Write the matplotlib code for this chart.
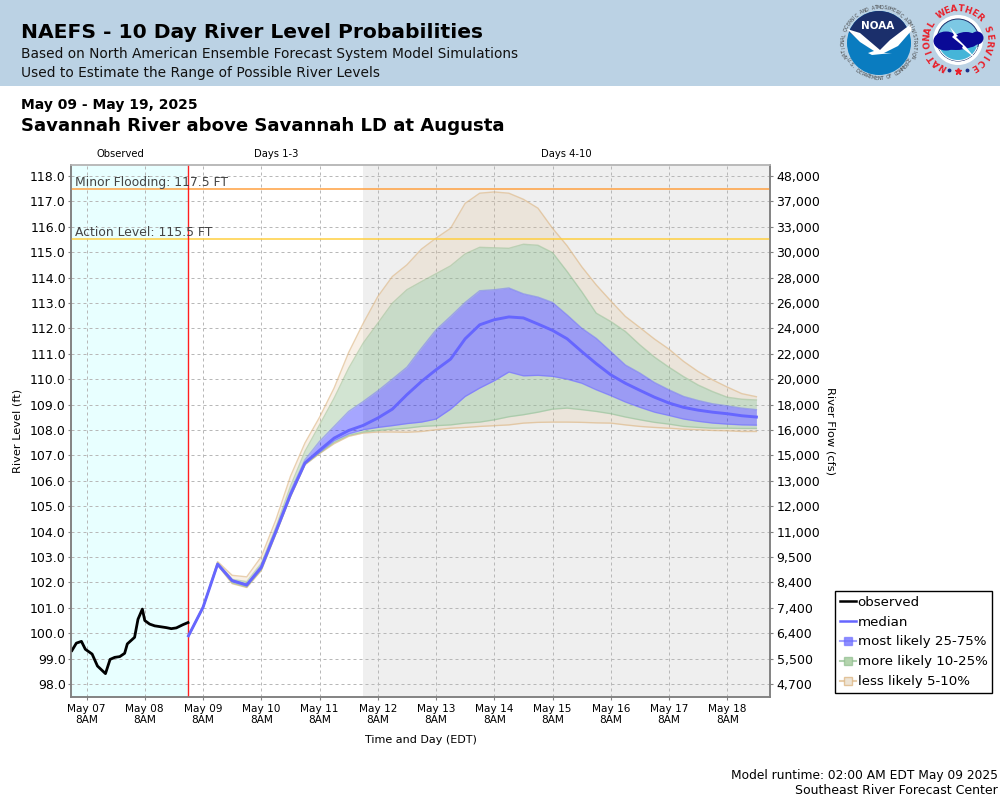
import numpy as np
import matplotlib
matplotlib.use('Agg')
import matplotlib.pyplot as plt
from matplotlib.lines import Line2D
from matplotlib.patches import Circle, Polygon, Rectangle, Ellipse, Wedge

# hours since May 07 8AM
obs_hours = [-6, -4.2, -2.1, -0.5, 2.3, 4.5, 7.8, 9.7, 11.6, 13.7, 15.7, 16.8, 19.8, 21.2,
             23, 24, 26, 28.1, 30.2, 32.9, 34.9, 37, 39.8, 41.8]
obs_level = [99.32, 99.61, 99.68, 99.37, 99.18, 98.71, 98.41, 98.97, 99.05, 99.08, 99.21, 99.58,
             99.84, 100.55, 100.95, 100.5, 100.36, 100.29, 100.26, 100.22, 100.18, 100.21, 100.34, 100.42]

fc_hours = [42, 48, 54, 60, 66, 72, 78, 84, 90, 96, 102, 108, 114, 120, 126, 132, 138, 144, 150, 156,
            162, 168, 174, 180, 186, 192, 198, 204, 210, 216, 222, 228, 234, 240, 246, 252, 258, 264, 270, 276]

p95 = [99.92, 101.05, 102.82, 102.28, 102.22, 103.01, 104.46, 106.17, 107.49, 108.5, 109.65, 111.05, 112.2, 113.25,
       114.04, 114.5, 115.12, 115.55, 115.94, 116.92, 117.32, 117.37, 117.32, 117.08, 116.73, 115.94, 115.25,
       114.43, 113.71, 113.08, 112.47, 112.03, 111.58, 111.18, 110.7, 110.3, 109.97, 109.69, 109.43, 109.31]
p90 = [99.91, 101.04, 102.78, 102.12, 102.03, 102.75, 104.17, 105.78, 107.16, 108.2, 109.25, 110.43, 111.42, 112.2,
       112.99, 113.52, 113.84, 114.15, 114.46, 114.93, 115.19, 115.17, 115.15, 115.31, 115.27, 114.98, 114.24,
       113.45, 112.6, 112.27, 111.88, 111.35, 110.87, 110.47, 110.1, 109.77, 109.51, 109.29, 109.21, 109.18]
p75 = [99.91, 101.03, 102.75, 102.09, 101.93, 102.68, 104.09, 105.58, 106.83, 107.55, 108.14, 108.73, 109.12, 109.54,
       110.0, 110.47, 111.22, 111.94, 112.47, 113.02, 113.48, 113.52, 113.59, 113.36, 113.23, 113.02, 112.53,
       112.01, 111.61, 111.09, 110.56, 110.24, 109.87, 109.58, 109.32, 109.16, 109.03, 108.95, 108.86, 108.8]
median = [99.9, 101.02, 102.72, 102.07, 101.9, 102.59, 104.0, 105.45, 106.7, 107.2, 107.68, 107.98, 108.18, 108.47,
          108.82, 109.39, 109.91, 110.37, 110.79, 111.59, 112.14, 112.34, 112.45, 112.41, 112.17, 111.92, 111.59,
          111.09, 110.61, 110.17, 109.84, 109.56, 109.29, 109.06, 108.89, 108.78, 108.7, 108.64, 108.56, 108.51]
p25 = [99.9, 101.01, 102.7, 102.03, 101.86, 102.55, 103.97, 105.42, 106.68, 107.12, 107.58, 107.85, 108.01, 108.1,
       108.17, 108.25, 108.31, 108.43, 108.82, 109.32, 109.65, 109.94, 110.28, 110.13, 110.15, 110.11, 110.0,
       109.84, 109.58, 109.35, 109.1, 108.89, 108.7, 108.57, 108.43, 108.34, 108.27, 108.23, 108.2, 108.19]
p10 = [99.89, 101.0, 102.69, 101.98, 101.82, 102.5, 103.92, 105.38, 106.65, 107.09, 107.51, 107.79, 107.92, 107.98,
       108.03, 108.07, 108.14, 108.17, 108.2, 108.27, 108.31, 108.4, 108.52, 108.6, 108.7, 108.82, 108.86,
       108.8, 108.73, 108.64, 108.51, 108.4, 108.3, 108.23, 108.14, 108.1, 108.07, 108.07, 108.06, 108.06]
p5 = [99.88, 100.99, 102.68, 101.95, 101.8, 102.47, 103.9, 105.36, 106.63, 107.07, 107.46, 107.75, 107.88, 107.92,
      107.92, 107.91, 107.94, 108.01, 108.07, 108.1, 108.14, 108.17, 108.2, 108.27, 108.3, 108.31, 108.31,
      108.3, 108.28, 108.27, 108.2, 108.14, 108.1, 108.07, 108.03, 108.01, 107.98, 107.97, 107.94, 107.94]

stage_ticks = [98, 99, 100, 101, 102, 103, 104, 105, 106, 107, 108, 109, 110, 111, 112, 113, 114, 115, 116, 117, 118]
flow_labels = ['4,700', '5,500', '6,400', '7,400', '8,400', '9,500', '11,000', '12,000', '13,000', '15,000',
               '16,000', '18,000', '20,000', '22,000', '24,000', '26,000', '28,000', '30,000', '33,000', '37,000', '48,000']
day_ticks = [0, 24, 48, 72, 96, 120, 144, 168, 192, 216, 240, 264]
day_labels = ['May 07', 'May 08', 'May 09', 'May 10', 'May 11', 'May 12', 'May 13', 'May 14', 'May 15',
              'May 16', 'May 17', 'May 18']

BLUE = '#6666ff'
FILL_BLUE = (0, 0, 1, 0.35)
FILL_GREEN = (0.56, 0.74, 0.56, 0.4)
FILL_TAN = (0.87, 0.72, 0.53, 0.2)
EDGE_BLUE = (0.4, 0.4, 1, 0.45)
EDGE_GREEN = (0.56, 0.74, 0.56, 0.5)
EDGE_TAN = (0.87, 0.72, 0.53, 0.65)

plt.rcParams['font.family'] = 'DejaVu Sans'
fig = plt.figure(figsize=(10, 8), dpi=100)
W, H = 1000, 800
ax = fig.add_axes([71 / W, 1 - 697 / H, 699 / W, 532 / H])

# background regions
ax.axvspan(-6.4, 42, color='#e8ffff', lw=0, zorder=0)
ax.axvspan(114, 282, color='#efefef', lw=0, zorder=0)
ax.set_xlim(-6.4, 281.6)
ax.set_ylim(97.49, 118.43)
ax.grid(True, ls=(0, (3, 3)), color='#b8b8b8', lw=0.72, zorder=1)
ax.set_axisbelow(True)

# bands
ax.fill_between(fc_hours, p5, p10, color=FILL_TAN, lw=0, zorder=2)
ax.fill_between(fc_hours, p90, p95, color=FILL_TAN, lw=0, zorder=2)
ax.fill_between(fc_hours, p10, p25, color=FILL_GREEN, lw=0, zorder=2)
ax.fill_between(fc_hours, p75, p90, color=FILL_GREEN, lw=0, zorder=2)
ax.fill_between(fc_hours, p25, p75, color=FILL_BLUE, lw=0, zorder=2)
for s, c in [(p5, EDGE_TAN), (p95, EDGE_TAN), (p10, EDGE_GREEN), (p90, EDGE_GREEN), (p25, EDGE_BLUE), (p75, EDGE_BLUE)]:
    ax.plot(fc_hours, s, color=c, lw=1.0, zorder=3)

ax.axhline(117.5, color='#ffa040', lw=1.1, zorder=3)
ax.axhline(115.5, color='#ffcf40', lw=1.1, zorder=3)
ax.text(-4.7, 117.5, 'Minor Flooding: 117.5 FT', fontsize=8.9, color='#444444', va='bottom', zorder=6)
ax.text(-4.7, 115.5, 'Action Level: 115.5 FT', fontsize=8.9, color='#444444', va='bottom', zorder=6)
ax.axvline(42, color='#ff2020', lw=1.0, zorder=4)

ax.plot(fc_hours, median, color=BLUE, lw=2.1, zorder=5)
ax.plot(obs_hours, obs_level, color='black', lw=2.0, zorder=5)

ax.set_xticks(day_ticks)
ax.set_xticklabels([d + '\n8AM' for d in day_labels], fontsize=7.6, linespacing=1.15)
ax.set_yticks(stage_ticks)
ax.set_yticklabels(['%.1f' % v for v in stage_ticks], fontsize=9)
ax.tick_params(axis='x', length=2.2, width=0.8, color='#808080', pad=2.5)
ax.tick_params(axis='y', length=2.2, width=0.8, color='#808080', pad=1.5)

ax2 = ax.twinx()
ax2.set_ylim(ax.get_ylim())
ax2.set_yticks(stage_ticks)
ax2.set_yticklabels(flow_labels, fontsize=9)
ax2.tick_params(axis='y', length=2.2, width=0.8, color='#808080', pad=2.5)

for a in (ax, ax2):
    a.spines['left'].set_color('#808080')
    a.spines['bottom'].set_color('#808080')
    a.spines['right'].set_color('#808080')
    a.spines['top'].set_color('#b8b8b8')
    for sp in a.spines.values():
        sp.set_linewidth(1.1)

# overlay in pixel coordinates for the header and loose labels
ov = fig.add_axes([0, 0, 1, 1], zorder=-1)
ov.set_xlim(0, W)
ov.set_ylim(H, 0)
ov.axis('off')
ov.add_patch(Rectangle((0, 0), W, 86, color='#bbd2e4', lw=0))

top = fig.add_axes([0, 0, 1, 1], zorder=5)
top.set_xlim(0, W)
top.set_ylim(H, 0)
top.axis('off')
top.patch.set_alpha(0)

top.text(21, 33, 'NAEFS - 10 Day River Level Probabilities', fontsize=14.6, fontweight='bold', color='black', va='center')
top.text(21, 54, 'Based on North American Ensemble Forecast System Model Simulations', fontsize=9.92, color='#111111', va='center')
top.text(21, 73, 'Used to Estimate the Range of Possible River Levels', fontsize=9.92, color='#111111', va='center')
top.text(21, 105, 'May 09 - May 19, 2025', fontsize=10, fontweight='bold', va='center')
top.text(21, 126, 'Savannah River above Savannah LD at Augusta', fontsize=13.03, fontweight='bold', va='center')
top.text(120, 154, 'Observed', fontsize=7.2, ha='center', va='center')
top.text(276, 154, 'Days 1-3', fontsize=7.2, ha='center', va='center')
top.text(566, 154, 'Days 4-10', fontsize=7.2, ha='center', va='center')
top.text(18, 431, 'River Level (ft)', fontsize=8.2, rotation=90, ha='center', va='center')
top.text(831, 431, 'River Flow (cfs)', fontsize=8.2, rotation=-90, ha='center', va='center')
top.text(421, 740, 'Time and Day (EDT)', fontsize=8, ha='center', va='center')
top.text(998, 775, 'Model runtime: 02:00 AM EDT May 09 2025', fontsize=8.85, ha='right', va='center')
top.text(998, 791, 'Southeast River Forecast Center', fontsize=9, ha='right', va='center')


def ring_text(txt, cx, cy, r, start, end, flip=False, **kw):
    # one rotated character at a time round a circle, angles clockwise from the top
    for ch, ang in zip(txt, np.linspace(start, end, len(txt))):
        a = np.radians(ang)
        rot = 180 - ang if flip else -ang
        top.text(cx + r * np.sin(a), cy - r * np.cos(a), ch, rotation=rot, ha='center', va='center',
                 rotation_mode='anchor', **kw)


# NOAA logo
nx, ny = 879, 43
top.add_patch(Circle((nx, ny), 32, color='#0a7cc0', lw=0))
navy = Circle((nx, ny), 32, color='#1b2f6b', lw=0)
top.add_patch(navy)
navy.set_clip_path(Polygon([(840, 0), (918, 0), (914, 25), (893, 46), (878, 52), (862, 42), (845, 29)],
                           transform=top.transData))
wing = Polygon([(847, 29), (860, 33), (880, 50), (890, 40), (911, 24), (912, 30), (898, 46), (884, 53),
                (892, 53), (872, 55), (868, 53), (874, 51), (860, 42)], color='white', lw=0)
top.add_patch(wing)
top.text(nx - 1, 26, 'NOAA', color='white', fontsize=7.5, fontweight='bold', ha='center', va='center')
ring_text('NATIONAL OCEANIC AND ATMOSPHERIC ADMINISTRATION', nx, ny, 35.5, -112, 112, fontsize=3.4, color='#444444')
ring_text('U.S. DEPARTMENT OF COMMERCE', nx, ny, 35.5, -118, -242, flip=True, fontsize=3.4, color='#444444')

# NWS logo
sx, sy = 958, 40
top.add_patch(Circle((sx, sy), 25, color='white', lw=0))
top.add_patch(Circle((sx, sy), 21, fc='#7cc8e4', ec='#1b2f6b', lw=0.7))
top.add_patch(Wedge((sx, sy), 21, 20, 160, fc='#ffffff', lw=0))
top.add_patch(Wedge((sx, sy), 20, 20, 160, fc='#45b5d8', lw=0))
for ex, ey, ew, eh in [(sx - 12, sy + 1, 25, 19), (sx + 8, sy, 26, 16), (sx + 19, sy - 2, 13, 13), (sx - 2, sy + 2, 36, 16)]:
    top.add_patch(Ellipse((ex, ey), ew, eh, color='#0a0a96', lw=0))
top.add_patch(Polygon([(sx - 8, sy - 13), (sx + 0, sy - 4), (sx - 2, sy - 3), (sx + 8, sy + 7), (sx + 17, sy + 18),
                       (sx + 4, sy + 8), (sx + 5, sy + 6), (sx - 6, sy - 3), (sx - 4, sy - 5)], color='white', lw=0))
ring_text('NATIONAL WEATHER SERVICE', sx, sy, 31, -150, 148, fontsize=6.3, fontweight='bold', color='#e8202a')
top.plot([sx - 9, sx + 9], [sy + 30, sy + 30], ls='none', marker='o', ms=1.8, color='#1b2f8b')
top.plot([sx], [sy + 31], ls='none', marker='*', ms=4.5, color='#e8202a')

# legend
handles = [
    Line2D([], [], color='black', lw=1.8),
    Line2D([], [], color=BLUE, lw=1.8),
    Line2D([], [], color=(0.4, 0.4, 1, 0.6), lw=1.5, marker='s', ms=6, mfc=(0.45, 0.45, 1, 0.8), mec=(0.4, 0.4, 1, 0.6)),
    Line2D([], [], color=(0.56, 0.74, 0.56, 0.7), lw=1.5, marker='s', ms=6, mfc=(0.7, 0.83, 0.68), mec=(0.56, 0.74, 0.56, 0.7)),
    Line2D([], [], color=(0.87, 0.72, 0.53, 0.7), lw=1.5, marker='s', ms=6, mfc=(0.93, 0.89, 0.83), mec=(0.87, 0.72, 0.53, 0.8)),
]
labels = ['observed', 'median', 'most likely 25-75%', 'more likely 10-25%', 'less likely 5-10%']
fig.legend(handles, labels, loc='upper left', bbox_to_anchor=(835 / W, 1 - 591 / H), fontsize=9.65,
           frameon=True, fancybox=False, framealpha=1, edgecolor='black', borderpad=0.34,
           labelspacing=0.52, handlelength=1.2, handletextpad=0.15, borderaxespad=0)

fig.savefig('out.png', dpi=100)
